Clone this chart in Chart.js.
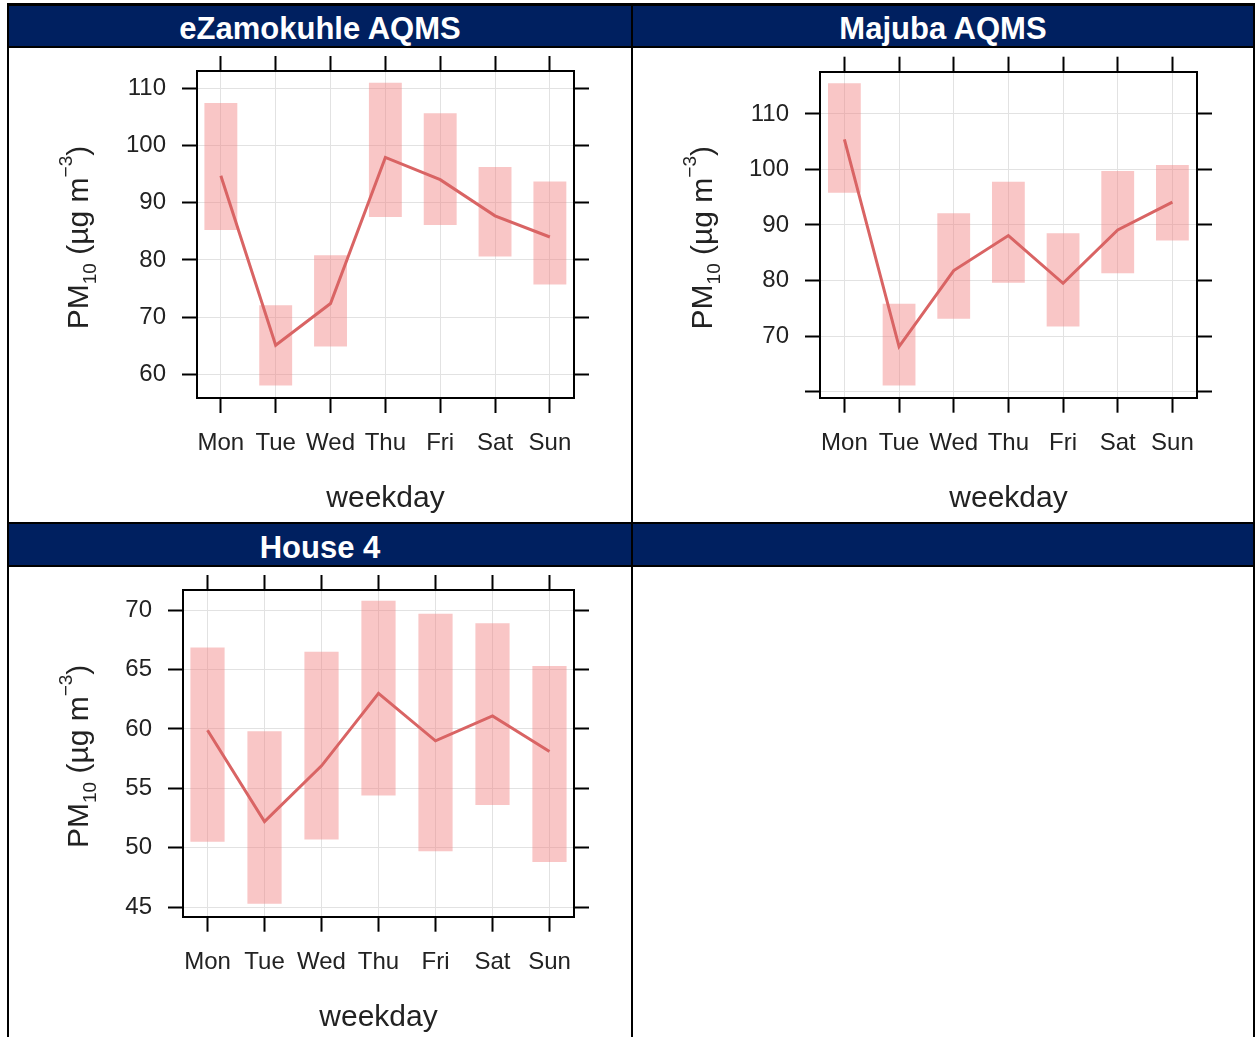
<!DOCTYPE html>
<html>
<head>
<meta charset="utf-8">
<title>PM10 by weekday</title>
<script src="https://cdn.jsdelivr.net/npm/chart.js@4.4.1/dist/chart.umd.min.js"></script>
<style>
  html, body { margin: 0; padding: 0; background: #fff; }
  body { width: 1257px; height: 1037px; position: relative; overflow: hidden;
         font-family: "Liberation Sans", Arial, sans-serif; }
  .rule { position: absolute; background: #000; }
  .head { position: absolute; background: #002060; color: #fff; font-weight: bold;
          font-size: 31px; text-align: center; overflow: hidden; white-space: nowrap; }
  canvas { position: absolute; }
</style>
</head>
<body>
  <!-- table frame -->
  <div class="rule" style="left:7px;top:3px;width:1248px;height:3px;"></div>
  <div class="rule" style="left:7px;top:46px;width:1248px;height:2px;"></div>
  <div class="rule" style="left:7px;top:522px;width:1248px;height:2px;"></div>
  <div class="rule" style="left:7px;top:565px;width:1248px;height:2px;"></div>
  <div class="rule" style="left:7px;top:3px;width:2px;height:1034px;"></div>
  <div class="rule" style="left:631px;top:3px;width:2px;height:1034px;"></div>
  <div class="rule" style="left:1253px;top:3px;width:2px;height:1034px;"></div>

  <div class="head" style="left:9px;top:6px;width:622px;height:40px;line-height:46px;">eZamokuhle AQMS</div>
  <div class="head" style="left:633px;top:6px;width:620px;height:40px;line-height:46px;">Majuba AQMS</div>
  <div class="head" style="left:9px;top:524px;width:622px;height:41px;line-height:47px;">House 4</div>
  <div class="head" style="left:633px;top:524px;width:620px;height:41px;"></div>

  <canvas id="ezamokuhle" width="622" height="471" style="left:9px;top:49px;"></canvas>
  <canvas id="majuba" width="620" height="471" style="left:633px;top:49px;"></canvas>
  <canvas id="house4" width="622" height="470" style="left:9px;top:567px;"></canvas>

<script>
// Weekday categories
const weekdays = ['Mon', 'Tue', 'Wed', 'Thu', 'Fri', 'Sat', 'Sun'];

// eZamokuhle AQMS: mean PM10 and its interval
const ezMean = [94.7, 65.1, 72.4, 97.9, 94.0, 87.7, 84.0];
const ezLow  = [85.2, 58.1, 64.9, 87.5, 86.1, 80.6, 75.7];
const ezHigh = [107.4, 72.1, 80.8, 110.9, 105.6, 96.2, 93.7];
const ezTicks = [60, 70, 80, 90, 100, 110];
const ezTickLabels = ['60', '70', '80', '90', '100', '110'];

// Majuba AQMS
const mjMean = [105.4, 68.1, 81.8, 88.1, 79.5, 89.1, 94.1];
const mjLow  = [95.8, 61.1, 73.1, 79.6, 71.7, 81.3, 87.2];
const mjHigh = [115.5, 75.8, 92.1, 97.8, 88.5, 99.7, 100.8];
const mjTicks = [60, 70, 80, 90, 100, 110];
const mjTickLabels = ['', '70', '80', '90', '100', '110'];

// House 4
const h4Mean = [59.9, 52.2, 56.9, 63.0, 59.0, 61.1, 58.1];
const h4Low  = [50.5, 45.3, 50.7, 54.4, 49.7, 53.6, 48.8];
const h4High = [66.85, 59.8, 66.5, 70.8, 69.7, 68.9, 65.3];
const h4Ticks = [45, 50, 55, 60, 65, 70];
const h4TickLabels = ['45', '50', '55', '60', '65', '70'];

const FONT = '"Liberation Sans", Arial, sans-serif';
const TEXT = '#222';
const LINE_COLOR = '#d96464';
const BAR_FILL = 'rgba(242,128,128,0.45)';
const TICK = 15;

// Rotated y title with subscript and superscript: PM10 (µg m-3)
const pmTitle = {
  id: 'pmTitle',
  afterDraw(chart) {
    const { ctx, chartArea } = chart;
    const s = chart.scales.y;
    const bx = s.left + 39;
    const cy = (chartArea.top + chartArea.bottom) / 2 + 3;
    const big = '30px ' + FONT;
    const small = '19px ' + FONT;
    const parts = [
      { t: 'PM', f: big, dy: 0 },
      { t: '10', f: small, dy: 8 },
      { t: ' (\u00b5g m', f: big, dy: 0 },
      { t: '\u22123', f: small, dy: -16 },
      { t: ')', f: big, dy: 0 }
    ];
    ctx.save();
    ctx.fillStyle = TEXT;
    ctx.textAlign = 'left';
    ctx.textBaseline = 'alphabetic';
    let total = 0;
    parts.forEach(p => { ctx.font = p.f; p.w = ctx.measureText(p.t).width; total += p.w; });
    ctx.translate(bx, cy);
    ctx.rotate(-Math.PI / 2);
    let x = -total / 2;
    parts.forEach(p => { ctx.font = p.f; ctx.fillText(p.t, x, p.dy); x += p.w; });
    ctx.restore();
  }
};

function fixedTicks(values) {
  return scale => { scale.ticks = values.map(v => ({ value: v })); };
}

// Keep the box exactly where the axis sizes put it: no extra label overhang padding
function sized(dim, value) {
  return s => {
    s[dim] = value;
    s.paddingTop = 0; s.paddingBottom = 0; s.paddingLeft = 0; s.paddingRight = 0;
  };
}

function makePanel(id, cfg) {
  const canvas = document.getElementById(id);
  const W = canvas.width, H = canvas.height;
  const a = cfg.area;
  const leftAxisW = a.left - 40;
  const bottomAxisH = H - a.bottom;
  const dayIdx = weekdays.map((_, i) => i);
  const tickFont = { family: FONT, size: 24 };
  const border = { display: true, color: '#000', width: 2 };
  const innerGrid = { color: '#e2e2e2', lineWidth: 1, drawTicks: true, tickLength: TICK,
                      tickColor: '#000', tickWidth: 2, offset: false };
  const outerGrid = { drawOnChartArea: false, drawTicks: true, tickLength: TICK,
                      tickColor: '#000', tickWidth: 2, offset: false };

  return new Chart(canvas, {
    type: 'bar',
    data: {
      datasets: [
        {
          type: 'line', order: 0,
          data: cfg.mean.map((v, i) => ({ x: i, y: v })),
          borderColor: LINE_COLOR, borderWidth: 3, pointRadius: 0, tension: 0, fill: false
        },
        {
          type: 'bar', order: 1,
          data: cfg.low.map((v, i) => ({ x: i, y: [v, cfg.high[i]] })),
          backgroundColor: BAR_FILL, borderWidth: 0,
          barPercentage: 0.6, categoryPercentage: 1
        }
      ]
    },
    options: {
      responsive: false, maintainAspectRatio: false, animation: false,
      layout: { padding: { left: 40, right: W - a.right - TICK, top: a.top - TICK, bottom: 0 } },
      plugins: { legend: { display: false }, tooltip: { enabled: false } },
      scales: {
        x: {
          type: 'linear', position: 'bottom', offset: false, bounds: 'data',
          min: cfg.xRange[0], max: cfg.xRange[1],
          afterBuildTicks: fixedTicks(dayIdx),
          afterFit: sized('height', bottomAxisH),
          grid: innerGrid, border,
          ticks: { font: tickFont, color: TEXT, padding: 16, autoSkip: false,
                   maxRotation: 0, minRotation: 0, callback: v => weekdays[v] ?? '' },
          title: { display: true, text: 'weekday', color: TEXT, font: { family: FONT, size: 30 },
                   padding: { top: 0, bottom: bottomAxisH - 119 } }
        },
        x2: {
          type: 'linear', position: 'top', offset: false, bounds: 'data',
          min: cfg.xRange[0], max: cfg.xRange[1],
          afterBuildTicks: fixedTicks(dayIdx),
          afterFit: sized('height', TICK),
          grid: outerGrid, border, ticks: { display: false }
        },
        y: {
          type: 'linear', position: 'left', beginAtZero: false, bounds: 'data',
          min: cfg.yRange[0], max: cfg.yRange[1],
          afterBuildTicks: fixedTicks(cfg.yTicks),
          afterFit: sized('width', leftAxisW),
          grid: innerGrid, border,
          ticks: { font: tickFont, color: TEXT, padding: 16, callback: (v, i) => cfg.yLabels[i] }
        },
        y2: {
          type: 'linear', position: 'right', beginAtZero: false, bounds: 'data',
          min: cfg.yRange[0], max: cfg.yRange[1],
          afterBuildTicks: fixedTicks(cfg.yTicks),
          afterFit: sized('width', TICK),
          grid: outerGrid, border, ticks: { display: false }
        }
      }
    },
    plugins: [pmTitle]
  });
}

makePanel('ezamokuhle', {
  mean: ezMean, low: ezLow, high: ezHigh, yTicks: ezTicks, yLabels: ezTickLabels,
  xRange: [-0.435, 6.44], yRange: [55.9, 112.97],
  area: { left: 188, right: 565, top: 22, bottom: 349 }
});
makePanel('majuba', {
  mean: mjMean, low: mjLow, high: mjHigh, yTicks: mjTicks, yLabels: mjTickLabels,
  xRange: [-0.446, 6.45], yRange: [58.9, 117.6],
  area: { left: 187, right: 564, top: 22.7, bottom: 348.7 }
});
makePanel('house4', {
  mean: h4Mean, low: h4Low, high: h4High, yTicks: h4Ticks, yLabels: h4TickLabels,
  xRange: [-0.43, 6.43], yRange: [44.2, 71.7],
  area: { left: 174, right: 565, top: 23, bottom: 349.7 }
});
</script>
</body>
</html>
